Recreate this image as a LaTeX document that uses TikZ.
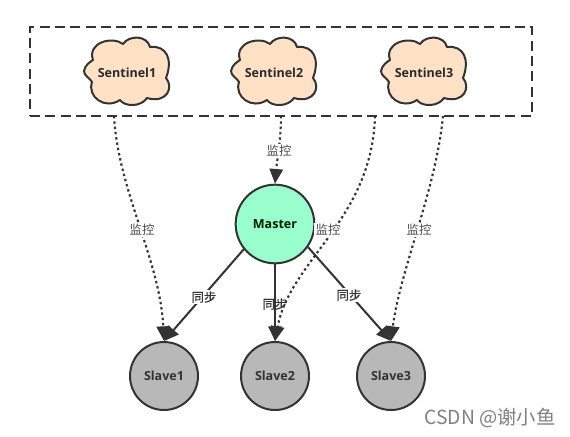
\documentclass[tikz,border=0pt]{standalone}
\usepackage{fontspec}
\setmainfont{Open Sans}
\newfontfamily\cjkfont{Noto Sans CJK SC}
\newfontfamily\cjkmed[FakeBold=0.5]{Noto Sans CJK SC}
\usetikzlibrary{arrows.meta}
\definecolor{ink}{HTML}{333333}
\definecolor{cloudfill}{HTML}{FFE1C6}
\definecolor{masterfill}{HTML}{99FFCC}
\definecolor{slavefill}{HTML}{B8B8B8}
\tikzset{
  px/.style={x=0.75pt,y=-0.75pt},
  groupbox/.style={draw=ink,line width=1.5pt,dash pattern=on 7.5pt off 4pt,minimum width=376.5pt,minimum height=66.75pt,inner sep=0pt},
  cloudshape/.style={draw=ink,line width=1.5pt,fill=cloudfill,line join=round},
  cloudtext/.style={font=\bfseries\fontsize{9.4}{11}\selectfont,text=ink!80!black,inner sep=0pt},
  masternode/.style={circle,draw=ink,line width=1.5pt,fill=masterfill,minimum size=59pt,inner sep=0pt,font=\bfseries\fontsize{9.4}{11}\selectfont,text=black!80!green!60!black},
  slavenode/.style={circle,draw=ink,line width=1.5pt,fill=slavefill,minimum size=51pt,inner sep=0pt,font=\bfseries\fontsize{9.4}{11}\selectfont,text=ink},
  watch/.style={draw=ink,line width=1.6pt,dash pattern=on 1.8pt off 2.2pt,-{Triangle[length=11pt,width=10pt,fill=ink]}},
  sync/.style={draw=ink,line width=1.5pt,-{Triangle[length=11pt,width=10pt,fill=ink]}},
  watchlabel/.style={font=\cjkfont\fontsize{9.3}{11}\selectfont,text=black!70,fill=white,inner sep=1pt},
  synclabel/.style={font=\cjkmed\fontsize{9.3}{11}\selectfont,text=ink,inner sep=1pt},
  marktext/.style={font=\cjkfont\fontsize{14.5}{16}\selectfont,text=black!50,inner sep=0pt}
}
\newcommand{\drawcloud}[1]{%
  \path[cloudshape,shift={(#1)}] (-43,-1)
    .. controls (-42,-7) and (-37,-10) .. (-34,-12)
    .. controls (-40,-30) and (-14,-36) .. (-4,-28)
    .. controls (2,-37) and (20,-37) .. (23,-25)
    .. controls (40,-27) and (46,-12) .. (39,6)
    .. controls (47,15) and (40,32) .. (20,26)
    .. controls (14,35) and (-2,35) .. (-7,28)
    .. controls (-22,38) and (-40,25) .. (-35,10)
    .. controls (-37,6) and (-43,4) .. cycle;}
\begin{document}
\begin{tikzpicture}[px]
\useasboundingbox[fill=white] (0,0) rectangle (570,436);
\node[groupbox] (box) at (281,71.5) {};
\drawcloud{127,72}
\drawcloud{274,72}
\drawcloud{424,72}
\node[cloudtext] (s1) at (127,72.5) {Sentinel1};
\node[cloudtext] (s2) at (274,72.5) {Sentinel2};
\node[cloudtext] (s3) at (424,72.5) {Sentinel3};
\node[masternode] (master) at (275,224) {Master};
\node[slavenode] (slave1) at (164,376) {Slave1};
\node[slavenode] (slave2) at (275,376) {Slave2};
\node[slavenode] (slave3) at (391,376) {Slave3};
\coordinate (w1) at (114,116);
\coordinate (w2) at (281,116);
\coordinate (w3) at (375,116);
\coordinate (w4) at (443,116);
\draw[watch] (w1) .. controls (118,190) and (160,260) .. (slave1.north);
\draw[watch] (w2) .. controls (281,140) and (277,160) .. (master.north);
\draw[watch] (w3) .. controls (372,220) and (290,260) .. (slave2.north);
\draw[watch] (w4) .. controls (436,190) and (400,270) .. (slave3.north);
\draw[sync] (master.219) -- (slave1.north);
\draw[sync] (master.south) -- (slave2.north);
\draw[sync] (master.325) -- (slave3.north);
\node[watchlabel] (l1) at (142,230) {监控};
\node[watchlabel] (l2) at (279,151) {监控};
\node[watchlabel] (l3) at (328,230) {监控};
\node[watchlabel] (l4) at (419,230) {监控};
\node[synclabel,fill=white] (l5) at (204,297) {同步};
\node[synclabel] (l6) at (275,304) {同步};
\node[synclabel,fill=white] (l7) at (349,295) {同步};
\node[marktext] (mark) at (490,418) {CSDN @谢小鱼};
\end{tikzpicture}
\end{document}
